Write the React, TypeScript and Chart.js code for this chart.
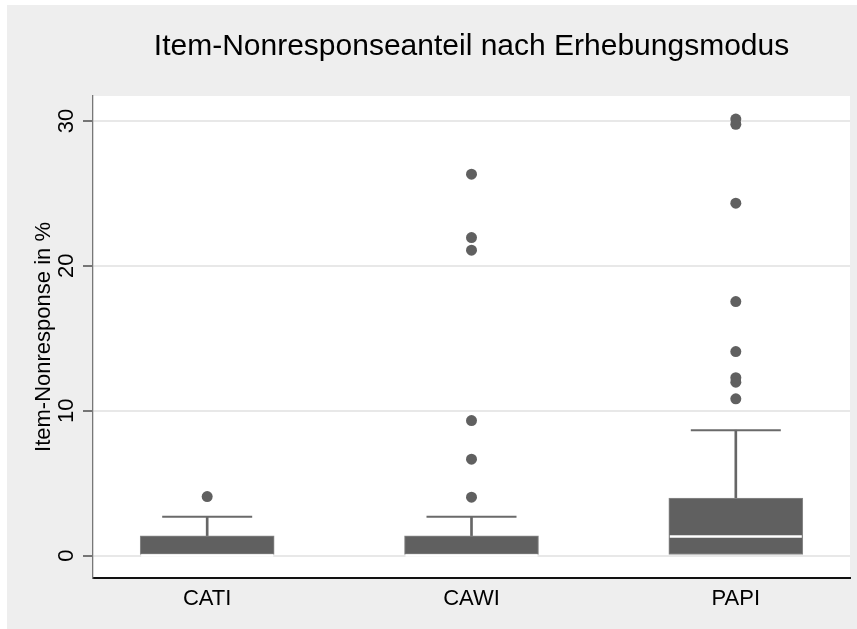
import React, { useEffect, useRef } from 'react';
import { Chart, registerables } from 'chart.js';

Chart.register(...registerables);

// ---- data ----
const categories = ['CATI', 'CAWI', 'PAPI'];
const q1 = [0, 0, 0];
const medians = [0, 0, 1.31];
const q3 = [1.36, 1.36, 3.96];
const upperWhisker = [2.67, 2.67, 8.65];
const outliersCATI = [4.07];
const outliersCAWI = [4.03, 6.65, 9.32, 21.08, 21.95, 26.32];
const outliersPAPI = [10.82, 11.97, 12.28, 14.08, 17.53, 24.32, 29.77, 30.13];
const outliers = [outliersCATI, outliersCAWI, outliersPAPI];
const yTicks = [0, 10, 20, 30];
const chartTitle = 'Item-Nonresponseanteil nach Erhebungsmodus';
const yTitle = 'Item-Nonresponse in %';

const FONT = "'Liberation Sans', Arial, Helvetica, sans-serif";
const BOX = '#606060';

const bgPlugin = {
  id: 'stataBg',
  beforeDraw(chart: any) {
    const { ctx, chartArea: a, width, height } = chart;
    ctx.save();
    ctx.fillStyle = '#eeeeee';
    ctx.fillRect(0, 0, width, height);
    ctx.fillStyle = '#ffffff';
    ctx.fillRect(a.left, a.top, a.right - a.left, a.bottom - a.top);
    ctx.restore();
  },
};

export default function App() {
  const ref = useRef<HTMLCanvasElement | null>(null);

  useEffect(() => {
    if (!ref.current) return;
    const pos = categories.map((_, i) => i + 1);
    const chart = new Chart(ref.current, {
      type: 'scatter',
      data: {
        datasets: [
          {
            type: 'bar',
            label: 'box',
            data: pos.map((x, i) => ({ x, y: [q1[i], q3[i]] })) as any,
            backgroundColor: BOX,
            borderColor: '#8a8a8a',
            borderWidth: 1,
            borderSkipped: false,
            barThickness: 134,
            grouped: false,
            order: 3,
          } as any,
          {
            type: 'bar',
            label: 'whisker',
            data: pos.map((x, i) => ({ x, y: [q3[i], upperWhisker[i]] })) as any,
            backgroundColor: '#666666',
            borderWidth: 0,
            barThickness: 2,
            grouped: false,
            order: 4,
          } as any,
          {
            type: 'scatter',
            label: 'caps',
            data: pos.map((x, i) => ({ x, y: upperWhisker[i] })),
            pointStyle: 'line',
            pointRadius: 45,
            pointBorderColor: '#6a6a6a',
            pointBorderWidth: 2,
            order: 2,
          } as any,
          {
            type: 'scatter',
            label: 'median',
            data: pos.map((x, i) => ({ x, y: medians[i] })),
            pointStyle: 'line',
            pointRadius: 66,
            pointBorderColor: '#ffffff',
            pointBorderWidth: 2.5,
            order: 1,
          } as any,
          {
            type: 'scatter',
            label: 'outliers',
            data: outliers.flatMap((vals, i) => vals.map((v) => ({ x: pos[i], y: v }))),
            pointStyle: 'circle',
            pointRadius: 5.5,
            pointBackgroundColor: BOX,
            pointBorderWidth: 0,
            order: 0,
          } as any,
        ],
      },
      options: {
        animation: false,
        responsive: false,
        events: [],
        layout: { autoPadding: false, padding: { left: 0, right: 7, top: 0, bottom: 0 } },
        plugins: {
          legend: { display: false },
          tooltip: { enabled: false },
          title: {
            display: true,
            text: chartTitle,
            fullSize: false,
            color: '#000000',
            font: { family: FONT, size: 30, weight: 'normal' },
            padding: { top: 23.5, bottom: 31.5 },
          },
        },
        scales: {
          x: {
            type: 'linear',
            min: 0.568,
            max: 3.432,
            offset: false,
            afterBuildTicks: (scale: any) => {
              scale.ticks = pos.map((v) => ({ value: v }));
            },
            afterFit: (scale: any) => {
              scale.height = 51;
            },
            ticks: {
              callback: (v: any) => categories[Math.round(Number(v)) - 1] ?? '',
              color: '#000000',
              font: { family: FONT, size: 22 },
              padding: 8,
              maxRotation: 0,
              minRotation: 0,
              autoSkip: false,
            },
            grid: { display: false, drawTicks: false },
            border: { display: true, color: '#111111', width: 2 },
          },
          y: {
            type: 'linear',
            min: -1.55,
            max: 31.72,
            afterBuildTicks: (scale: any) => {
              scale.ticks = yTicks.map((v) => ({ value: v }));
            },
            afterFit: (scale: any) => {
              scale.width = 86;
            },
            ticks: {
              color: '#000000',
              font: { family: FONT, size: 22 },
              padding: 3.5,
              crossAlign: 'center',
              minRotation: 90,
              maxRotation: 90,
              autoSkip: false,
            },
            grid: {
              color: '#e8e8e8',
              lineWidth: 2,
              drawTicks: true,
              tickLength: 10,
              tickColor: '#333333',
              tickWidth: 1.3,
            },
            border: { display: true, color: '#777777', width: 1.3 },
            title: {
              display: true,
              text: yTitle,
              color: '#000000',
              font: { family: FONT, size: 22 },
              padding: { top: 24, bottom: 0 },
            },
          },
        },
      } as any,
      plugins: [bgPlugin],
    });
    return () => chart.destroy();
  }, []);

  return (
    <div style={{ position: 'absolute', left: 7, top: 5, width: 850, height: 624 }}>
      <canvas ref={ref} width={850} height={624} style={{ display: 'block' }} />
    </div>
  );
}
